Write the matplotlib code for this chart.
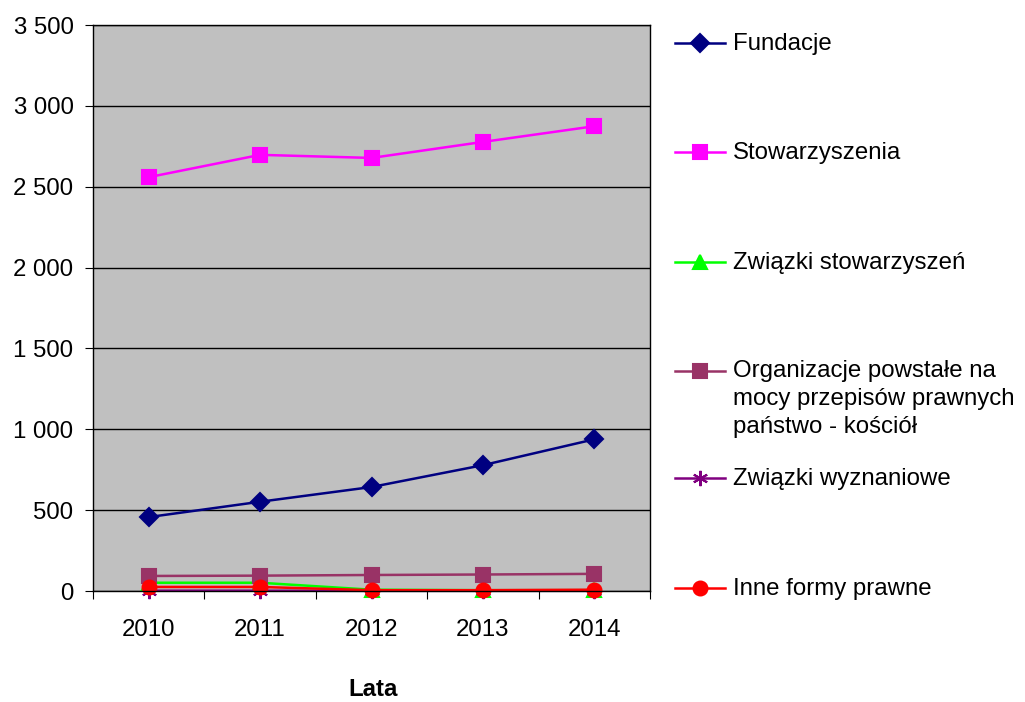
import matplotlib
matplotlib.use("Agg")
import matplotlib.pyplot as plt
from matplotlib.lines import Line2D
import numpy as np

years = ["2010", "2011", "2012", "2013", "2014"]

fundacje = [457, 552, 643, 778, 938]
stowarzyszenia = [2559, 2697, 2678, 2777, 2874]
zwiazki_stow = [51, 51, 8, 5, 5]
organizacje = [93, 95, 99, 102, 106]
zwiazki_wyzn = [2, 2, 1, 1, 1]
inne = [25, 25, 5, 5, 8]

labels = ["Fundacje", "Stowarzyszenia", "Związki stowarzyszeń",
          "Organizacje powstałe na\nmocy przepisów prawnych\npaństwo - kościół",
          "Związki wyznaniowe", "Inne formy prawne"]

plt.rcParams['font.family'] = ['Liberation Sans', 'DejaVu Sans']
fs = 17.3

W, H = 1025, 702
fig = plt.figure(figsize=(W / 100, H / 100), dpi=100)
ax = fig.add_axes([93 / W, 111 / H, 557 / W, 566 / H])
ax.set_facecolor('#C0C0C0')

x = np.arange(len(years))
series = [
    (fundacje, '#000080', 'D', 9),
    (stowarzyszenia, '#FF00FF', 's', 10),
    (zwiazki_stow, '#00FF00', '^', 10),
    (organizacje, '#993366', 's', 10),
    (zwiazki_wyzn, '#800080', (6, 2, 0), 11),
    (inne, '#FF0000', 'o', 10),
]
for (vals, col, mk, ms), lab in zip(series, labels):
    ax.plot(x, vals, color=col, lw=1.8, marker=mk, ms=ms,
            markeredgecolor=col, markeredgewidth=1.5, label=lab,
            clip_on=False)

ax.set_xlim(-0.5, 4.5)
ax.set_ylim(0, 3500)
ax.set_yticks(np.arange(0, 3501, 500))
ax.set_yticklabels([f"{v:,}".replace(",", " ") for v in range(0, 3501, 500)],
                   fontsize=fs)
ax.yaxis.grid(True, color='black', lw=1)
ax.set_axisbelow(True)

ax.set_xticks(np.arange(-0.5, 4.6, 1))
ax.set_xticklabels([])
ax.set_xticks(x, minor=True)
ax.set_xticklabels(years, minor=True, fontsize=fs)
ax.tick_params(axis='x', which='minor', length=0, pad=20)
ax.tick_params(axis='x', which='major', length=6, direction='out', color='black')
ax.tick_params(axis='y', length=6, direction='out', pad=8)
for s in ax.spines.values():
    s.set_color('black')
    s.set_linewidth(1)

fig.text(373 / W, 1 - 690 / H, "Lata", fontsize=fs, fontweight='bold',
         ha='center', va='center')

# legend on the right, entries spread down the height of the plot
entry_y = [43, 152, 262, 371, 478, 588]
for (vals, col, mk, ms), lab, ey in zip(series, labels, entry_y):
    yf = 1 - ey / H
    fig.add_artist(Line2D([675 / W, 725 / W], [yf, yf], color=col, lw=1.8,
                          transform=fig.transFigure))
    fig.add_artist(Line2D([700 / W], [yf], color=col, marker=mk, ms=ms,
                          markeredgecolor=col, markeredgewidth=1.5,
                          transform=fig.transFigure))
    if "\n" in lab:
        fig.text(733 / W, 1 - (ey - 11) / H, lab, fontsize=fs, va='top',
                 ha='left', linespacing=1.34)
    else:
        fig.text(733 / W, 1 - (ey + 1) / H, lab, fontsize=fs, va='center',
                 ha='left')

fig.savefig("out.png", dpi=100)
